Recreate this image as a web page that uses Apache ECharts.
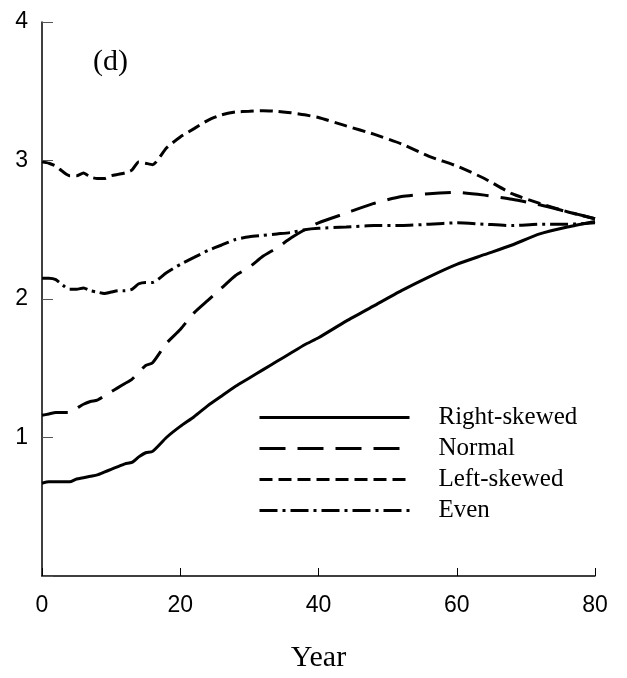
<!DOCTYPE html>
<html>
<head>
<meta charset="utf-8">
<script src="https://cdn.jsdelivr.net/npm/echarts@6/dist/echarts.min.js"></script>
<style>
    html, body { margin: 0; padding: 0; background: #fff; }
    #main { width: 627px; height: 678px; }
</style>
</head>
<body>
<div id="main"></div>
<script>
    var years = [0, 1, 2, 3, 4, 5, 6, 7, 8, 9, 10, 11, 12, 13, 14, 15, 16, 18, 20, 22, 24, 26, 28, 30, 32, 34, 36, 38, 40, 44, 48, 52, 56, 60, 64, 68, 72, 76, 80];

    var rightSkewed = [0.67, 0.68, 0.68, 0.68, 0.68, 0.70, 0.71, 0.72, 0.73, 0.75, 0.77, 0.79, 0.81, 0.82, 0.86, 0.89, 0.90, 1.00, 1.08, 1.15, 1.23, 1.30, 1.37, 1.43, 1.49, 1.55, 1.61, 1.67, 1.72, 1.84, 1.95, 2.06, 2.16, 2.25, 2.32, 2.39, 2.47, 2.52, 2.56];
    var normal = [1.16, 1.17, 1.18, 1.18, 1.18, 1.21, 1.24, 1.26, 1.27, 1.30, 1.33, 1.36, 1.39, 1.42, 1.47, 1.52, 1.54, 1.68, 1.78, 1.90, 1.99, 2.08, 2.17, 2.23, 2.31, 2.37, 2.44, 2.50, 2.55, 2.62, 2.69, 2.74, 2.76, 2.77, 2.75, 2.72, 2.68, 2.63, 2.58];
    var leftSkewed = [2.99, 2.98, 2.96, 2.92, 2.89, 2.89, 2.91, 2.88, 2.87, 2.87, 2.89, 2.90, 2.91, 2.93, 2.99, 2.98, 2.97, 3.09, 3.17, 3.23, 3.29, 3.33, 3.35, 3.355, 3.36, 3.355, 3.345, 3.33, 3.31, 3.25, 3.19, 3.12, 3.03, 2.96, 2.87, 2.76, 2.69, 2.63, 2.58];
    var even = [2.15, 2.15, 2.14, 2.10, 2.07, 2.07, 2.08, 2.06, 2.05, 2.04, 2.05, 2.06, 2.06, 2.07, 2.11, 2.12, 2.12, 2.19, 2.25, 2.30, 2.35, 2.39, 2.43, 2.45, 2.46, 2.47, 2.48, 2.50, 2.51, 2.52, 2.53, 2.53, 2.54, 2.55, 2.54, 2.53, 2.54, 2.54, 2.55];

    var seriesNames = ['Right-skewed', 'Normal', 'Left-skewed', 'Even'];

    function pairs(values) {
        return years.map(function (y, i) { return [y, values[i]]; });
    }

    var chart = echarts.init(document.getElementById('main'));

    function lineSeries(name, values, dash) {
        return {
            name: name,
            type: 'line',
            data: pairs(values),
            symbol: 'none',
            smooth: 0.2,
            lineStyle: { color: '#000', width: 3, type: dash },
            itemStyle: { color: '#000' }
        };
    }

    var option = {
        animation: false,
        backgroundColor: '#fff',
        title: {
            text: '(d)',
            left: 88,
            top: 42,
            textStyle: { fontFamily: 'Liberation Serif', fontSize: 30, fontWeight: 'normal', color: '#000' }
        },
        legend: {
            orient: 'vertical',
            left: 253,
            top: 400,
            itemWidth: 150,
            itemHeight: 14,
            itemGap: 6,
            data: seriesNames,
            itemStyle: { opacity: 0 },
            lineStyle: { width: 3 },
            textStyle: { fontFamily: 'Liberation Serif', fontSize: 25, color: '#000', padding: [0, 0, 0, 24] }
        },
        grid: { left: 42, right: 32, top: 22, bottom: 102 },
        xAxis: {
            type: 'value',
            min: 0,
            max: 80,
            interval: 20,
            name: 'Year',
            nameLocation: 'middle',
            nameGap: 67,
            nameTextStyle: { fontFamily: 'Liberation Serif', fontSize: 30, color: '#000' },
            axisLine: { lineStyle: { color: '#000', width: 1.5 } },
            axisTick: { inside: true, length: 8, lineStyle: { color: '#000' } },
            axisLabel: { margin: 18, fontFamily: 'Liberation Sans', fontSize: 23, color: '#000' },
            splitLine: { show: false }
        },
        yAxis: {
            type: 'value',
            min: 0,
            max: 4,
            interval: 1,
            axisLine: { show: true, lineStyle: { color: '#000', width: 1.5 } },
            axisTick: { show: true, inside: true, length: 11, lineStyle: { color: '#555' } },
            axisLabel: {
                margin: 14,
                fontFamily: 'Liberation Sans',
                fontSize: 23,
                color: '#000',
                formatter: function (v) { return v === 0 ? '' : v; }
            },
            splitLine: { show: false }
        },
        series: [
            lineSeries(seriesNames[0], rightSkewed, 'solid'),
            lineSeries(seriesNames[1], normal, [26, 12]),
            lineSeries(seriesNames[2], leftSkewed, [13, 6]),
            lineSeries(seriesNames[3], even, [18, 5, 3, 5])
        ]
    };

    chart.setOption(option);
</script>
</body>
</html>
